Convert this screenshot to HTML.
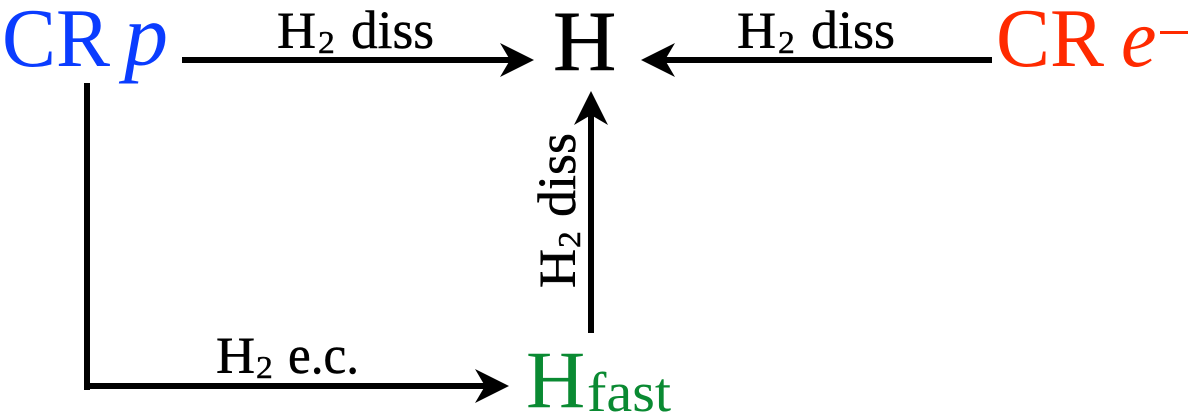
<!DOCTYPE html>
<html><head><meta charset="utf-8"><style>
html,body{margin:0;padding:0;background:#fff;width:1200px;height:418px;overflow:hidden}
svg{display:block}
text{font-family:"Liberation Serif",serif;fill:#000;stroke:#000;stroke-width:.5}
.b{fill:#0a3cff;stroke:none}
.r{fill:#ff2a00;stroke:none}
.g{fill:#0a8a32;stroke:none}
</style></head><body>
<svg width="1200" height="418" viewBox="0 0 1200 418" xmlns="http://www.w3.org/2000/svg">
<!-- lines -->
<g stroke="#000" stroke-width="6" fill="none">
<path d="M182 60H512"/>
<path d="M992 60H664"/>
<path d="M591 333V114"/>
<path d="M87 83V390"/>
<path d="M87 386H486"/>
</g>
<!-- arrowheads -->
<g fill="#000">
<path d="M534 60L500 43L510 60L500 77Z"/>
<path d="M641 60L675 43L665 60L675 77Z"/>
<path d="M591 91L574 125L591 115L608 125Z"/>
<path d="M509 386L475 369L485 386L475 403Z"/>
</g>
<!-- nodes -->
<text class="b" x="2" y="66" font-size="84" textLength="108" lengthAdjust="spacingAndGlyphs">CR</text>
<text class="b" x="124" y="65" font-size="88" font-style="italic">p</text>
<text transform="translate(553,70) scale(1.02,1)" font-size="86">H</text>
<text class="r" x="996" y="66" font-size="84" textLength="108" lengthAdjust="spacingAndGlyphs">CR</text>
<text class="r" transform="translate(1121,66) scale(.95,1)" font-size="84" font-style="italic">e</text>
<rect x="1160" y="31" width="28" height="3" fill="#ff2a00"/>
<text class="g" x="526" y="407" font-size="82">H</text>
<text class="g" x="587" y="411" font-size="56" textLength="84" lengthAdjust="spacingAndGlyphs">fast</text>
<!-- labels -->
<text transform="translate(277,48) scale(1.04,1)" font-size="52">H</text>
<text transform="translate(318,53) scale(1.05,1)" font-size="32">2</text>
<text x="351" y="48" font-size="54" textLength="83" lengthAdjust="spacingAndGlyphs">diss</text>
<text transform="translate(737,48) scale(1.04,1)" font-size="52">H</text>
<text transform="translate(778,53) scale(1.05,1)" font-size="32">2</text>
<text x="811" y="48" font-size="54" textLength="84" lengthAdjust="spacingAndGlyphs">diss</text>
<text transform="translate(216,373) scale(1.04,1)" font-size="52">H</text>
<text transform="translate(256,378) scale(1.05,1)" font-size="32">2</text>
<text x="288" y="373" font-size="54" textLength="71" lengthAdjust="spacingAndGlyphs">e.c.</text>
<g transform="translate(575,288) rotate(-90)">
<text transform="scale(1.04,1)" font-size="52">H</text>
<text transform="translate(40,5) scale(1.05,1)" font-size="32">2</text>
<text x="71" y="0" font-size="54" textLength="84" lengthAdjust="spacingAndGlyphs">diss</text>
</g>
</svg>
</body></html>
